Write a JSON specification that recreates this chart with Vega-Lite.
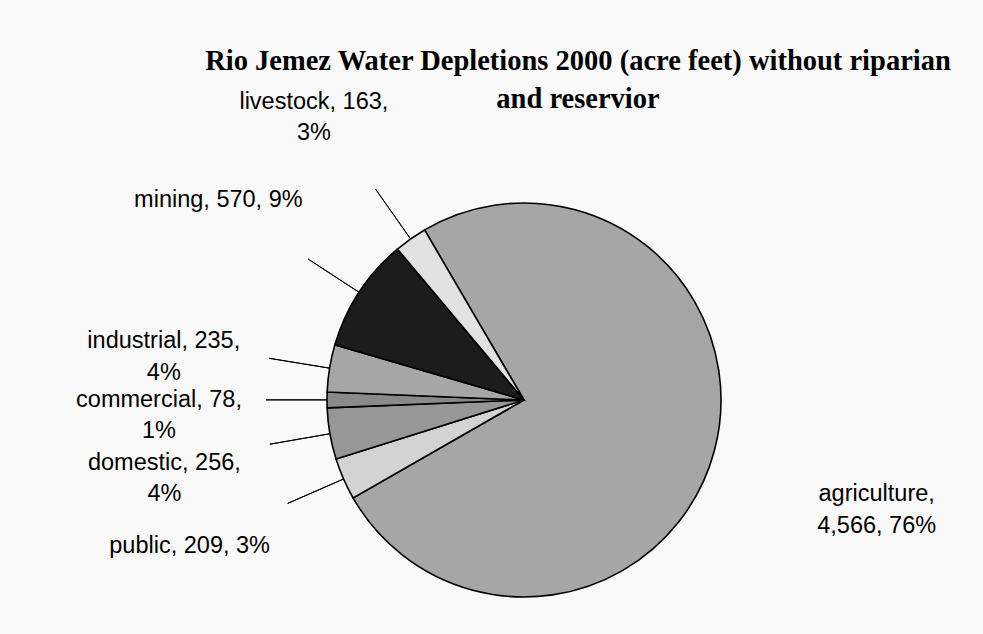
{
  "$schema": "https://vega.github.io/schema/vega-lite/v6.json",
  "width": 918,
  "height": 468,
  "autosize": {"type": "none"},
  "padding": {"left": 65, "top": 166, "right": 0, "bottom": 0},
  "background": "#f9f9f9",
  "config": {"view": {"stroke": null}},
  "title": {
    "text": ["Rio Jemez Water Depletions 2000 (acre feet) without riparian", "and reservior"],
    "font": "Liberation Serif",
    "fontSize": 28.5,
    "fontWeight": "bold",
    "color": "#000000",
    "lineHeight": 38,
    "anchor": "middle",
    "dx": 54,
    "dy": 84,
    "offset": 60
  },
  "data": {
    "values": [
      {"category": "agriculture", "value": 4566, "order": 1, "label": "agriculture,\n4,566, 76%"},
      {"category": "public", "value": 209, "order": 2, "label": "public, 209, 3%"},
      {"category": "domestic", "value": 256, "order": 3, "label": "domestic, 256,\n4%"},
      {"category": "commercial", "value": 78, "order": 4, "label": "commercial, 78,\n1%"},
      {"category": "industrial", "value": 235, "order": 5, "label": "industrial, 235,\n4%"},
      {"category": "mining", "value": 570, "order": 6, "label": "mining, 570, 9%"},
      {"category": "livestock", "value": 163, "order": 7, "label": "livestock, 163,\n3%"}
    ]
  },
  "layer": [
    {
      "mark": {"type": "arc", "outerRadius": 197, "stroke": "#000000", "strokeWidth": 1.6},
      "encoding": {
        "theta": {"field": "value", "type": "quantitative", "stack": true, "scale": {"range": [-0.529, 5.754]}},
        "order": {"field": "order", "type": "quantitative"},
        "color": {
          "field": "category",
          "type": "nominal",
          "legend": null,
          "scale": {
            "domain": ["agriculture", "public", "domestic", "commercial", "industrial", "mining", "livestock"],
            "range": ["#a6a6a6", "#d3d3d3", "#979797", "#8a8a8a", "#a6a6a6", "#1c1c1c", "#e2e2e2"]
          }
        }
      }
    },
    {
      "transform": [
        {"stack": "value", "groupby": [], "sort": [{"field": "order", "order": "ascending"}], "as": ["v0", "v1"]},
        {"filter": "datum.category !== 'agriculture'"}
      ],
      "mark": {"type": "arc", "innerRadius": 197, "outerRadius": 258, "padAngle": 1.2, "fill": null, "fillOpacity": 0, "stroke": "#000000", "strokeWidth": 1},
      "encoding": {
        "theta": {"field": "v0", "type": "quantitative", "stack": null, "scale": {"range": [-0.529, 5.754]}},
        "theta2": {"field": "v1"}
      }
    },
    {
      "mark": {"type": "text", "radius": 365, "font": "Liberation Sans", "fontSize": 23.5, "lineHeight": 31.5, "lineBreak": "\n", "align": "center", "baseline": "middle", "color": "#000000"},
      "encoding": {
        "theta": {"field": "value", "type": "quantitative", "stack": true, "scale": {"range": [-0.529, 5.754]}},
        "order": {"field": "order", "type": "quantitative"},
        "text": {"field": "label", "type": "nominal"}
      }
    }
  ]
}
